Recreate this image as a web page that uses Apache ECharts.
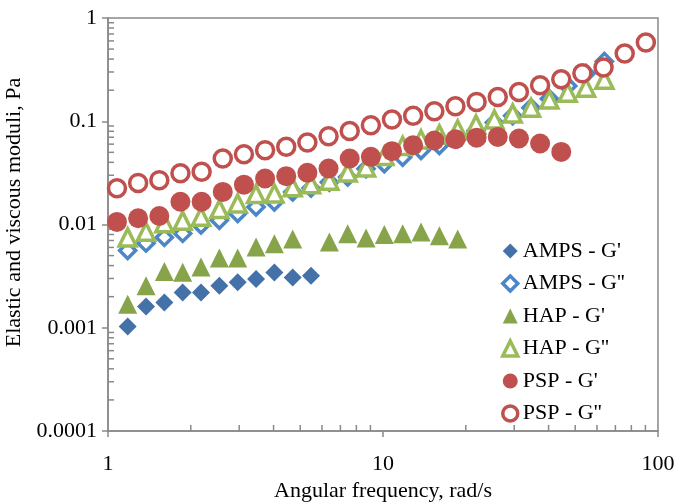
<!DOCTYPE html>
<html>
<head>
<meta charset="utf-8">
<script src="https://cdn.jsdelivr.net/npm/echarts@6/dist/echarts.min.js"></script>
<style>
html,body{margin:0;padding:0;background:#fff;}
#chart{width:678px;height:502px;}
</style>
</head>
<body>
<div id="chart"></div>
<script>
// Frequencies (rad/s) of the AMPS and HAP sweeps
var freqAH = [1.179, 1.375, 1.603, 1.869, 2.179, 2.541, 2.962, 3.454, 4.027, 4.695, 5.474, 6.382, 7.441, 8.676, 10.11, 11.79, 13.75, 16.03, 18.69, 21.79, 25.41, 29.62, 34.54, 40.27, 46.95, 54.74, 63.82];
// Frequencies (rad/s) of the PSP sweep
var freqPSP = [1.078, 1.287, 1.537, 1.834, 2.190, 2.614, 3.121, 3.726, 4.448, 5.309, 6.339, 7.567, 9.034, 10.78, 12.87, 15.37, 18.34, 21.90, 26.14, 31.21, 37.26, 44.48, 53.09, 63.39, 75.67, 90.34];

var ampsG1 = [0.00103, 0.00161, 0.00176, 0.00219, 0.00219, 0.00255, 0.00276, 0.00297, 0.00342, 0.00306, 0.00318];
var ampsG2 = [0.0056, 0.0066, 0.0075, 0.0082, 0.0099, 0.0110, 0.0128, 0.0148, 0.0165, 0.0206, 0.0225, 0.0257, 0.0288, 0.0346, 0.0387, 0.0449, 0.0521, 0.0582, 0.0675, 0.081, 0.097, 0.113, 0.135, 0.165, 0.22, 0.29, 0.38];
var hapG1 = [0.00169, 0.00255, 0.00350, 0.00345, 0.00388, 0.00475, 0.00475, 0.00606, 0.00652, 0.00724, null, 0.00678, 0.00815, 0.00741, 0.00800, 0.00815, 0.00847, 0.00780, 0.00724];
var hapG2 = [0.0075, 0.0085, 0.0103, 0.0109, 0.0119, 0.0141, 0.0160, 0.0197, 0.0200, 0.0229, 0.0246, 0.0265, 0.0319, 0.0357, 0.046, 0.0576, 0.0667, 0.0746, 0.0833, 0.093, 0.104, 0.119, 0.135, 0.162, 0.189, 0.211, 0.253];
var pspG1 = [0.0106, 0.0115, 0.0121, 0.0166, 0.0166, 0.0207, 0.0243, 0.0279, 0.0294, 0.0317, 0.0349, 0.0436, 0.0452, 0.0513, 0.0586, 0.0651, 0.0670, 0.0693, 0.0705, 0.0681, 0.0609, 0.0505];
var pspG2 = [0.0224, 0.0253, 0.0269, 0.0313, 0.0324, 0.0436, 0.0480, 0.0525, 0.0565, 0.0623, 0.0716, 0.0806, 0.0915, 0.104, 0.113, 0.125, 0.140, 0.154, 0.172, 0.192, 0.223, 0.255, 0.291, 0.332, 0.454, 0.580];

var seriesNames = ["AMPS - G'", "AMPS - G''", "HAP - G'", "HAP - G''", "PSP - G'", "PSP - G''"];
var xTitle = "Angular frequency, rad/s";
var yTitle = "Elastic and viscous moduli, Pa";

// minor tick positions of the log axes
var minorX = [2,3,4,5,6,7,8,9,20,30,40,50,60,70,80,90];
var minorY = [0.0002,0.0003,0.0004,0.0005,0.0006,0.0007,0.0008,0.0009,0.002,0.003,0.004,0.005,0.006,0.007,0.008,0.009,0.02,0.03,0.04,0.05,0.06,0.07,0.08,0.09,0.2,0.3,0.4,0.5,0.6,0.7,0.8,0.9];

function pairs(xs, ys) {
  var out = [];
  for (var i = 0; i < ys.length; i++) {
    if (ys[i] != null) out.push([xs[i], ys[i]]);
  }
  return out;
}

var AXIS = '#898989';
var FONT = 'Liberation Serif';
var FS = 22;

var chart = echarts.init(document.getElementById('chart'), null, {renderer: 'canvas'});

function tickSeries(vals, isX) {
  return {
    type: 'custom',
    silent: true,
    clip: false,
    z: 1,
    data: vals.map(function (v) { return isX ? [v, 0.0001] : [1, v]; }),
    renderItem: function (params, api) {
      var p = api.coord([api.value(0), api.value(1)]);
      return {
        type: 'line',
        shape: isX ? {x1: p[0], y1: p[1], x2: p[0], y2: p[1] - 6} : {x1: p[0], y1: p[1], x2: p[0] + 6, y2: p[1]},
        style: {stroke: AXIS, lineWidth: 1.5}
      };
    }
  };
}

var option = {
  backgroundColor: '#fff',
  animation: false,
  grid: {left: 108, top: 18, width: 550, height: 413, show: true, borderColor: AXIS, borderWidth: 1.5,
         backgroundColor: 'transparent', containLabel: false, outerBoundsMode: 'none'},
  xAxis: {
    type: 'log', logBase: 10, min: 1, max: 100,
    name: xTitle, nameLocation: 'middle', nameGap: 42,
    nameTextStyle: {fontFamily: FONT, fontSize: FS, color: '#000'},
    axisLine: {lineStyle: {color: AXIS, width: 1.5}},
    axisTick: {show: true, inside: false, length: 6, lineStyle: {color: AXIS, width: 1.5}},
    axisLabel: {fontFamily: FONT, fontSize: FS, color: '#000', margin: 22},
    splitLine: {show: false}
  },
  yAxis: {
    type: 'log', logBase: 10, min: 0.0001, max: 1,
    name: yTitle, nameLocation: 'middle', nameGap: 79,
    nameTextStyle: {fontFamily: FONT, fontSize: FS, color: '#000', padding: [0, 0, 0, 24]},
    axisLine: {lineStyle: {color: AXIS, width: 1.5}},
    axisTick: {show: true, inside: false, length: 6, lineStyle: {color: AXIS, width: 1.5}},
    axisLabel: {fontFamily: FONT, fontSize: FS, color: '#000', margin: 11,
      formatter: function (v) { return String(Number(Number(v).toPrecision(1))); }},
    splitLine: {show: false}
  },
  legend: {
    orient: 'vertical', left: 496, top: 235, itemGap: 10.5, itemWidth: 15, itemHeight: 15,
    data: seriesNames,
    textStyle: {fontFamily: FONT, fontSize: FS, color: '#000'},
    itemStyle: {borderWidth: 'inherit'}
  },
  series: [
    tickSeries(minorX, true),
    tickSeries(minorY, false),
    {name: seriesNames[0], type: 'scatter', symbol: 'diamond', symbolSize: 18,
     itemStyle: {color: '#4371a8', opacity: 1}, data: pairs(freqAH, ampsG1)},
    {name: seriesNames[1], type: 'scatter', symbol: 'diamond', symbolSize: 16,
     itemStyle: {color: '#ffffff', borderColor: '#4a86c8', borderWidth: 3.5, opacity: 1}, data: pairs(freqAH, ampsG2)},
    {name: seriesNames[2], type: 'scatter', symbol: 'triangle', symbolSize: 19,
     itemStyle: {color: '#87a44b', opacity: 1}, data: pairs(freqAH, hapG1)},
    {name: seriesNames[3], type: 'scatter', symbol: 'triangle', symbolSize: 17,
     itemStyle: {color: '#ffffff', borderColor: '#9bbb59', borderWidth: 3.5, opacity: 1}, data: pairs(freqAH, hapG2)},
    {name: seriesNames[4], type: 'scatter', symbol: 'circle', symbolSize: 20,
     itemStyle: {color: '#c0504d', opacity: 1}, data: pairs(freqPSP, pspG1)},
    {name: seriesNames[5], type: 'scatter', symbol: 'circle', symbolSize: 17,
     itemStyle: {color: '#ffffff', borderColor: '#c0504d', borderWidth: 3.5, opacity: 1}, data: pairs(freqPSP, pspG2)}
  ]
};
chart.setOption(option);
</script>
</body>
</html>
